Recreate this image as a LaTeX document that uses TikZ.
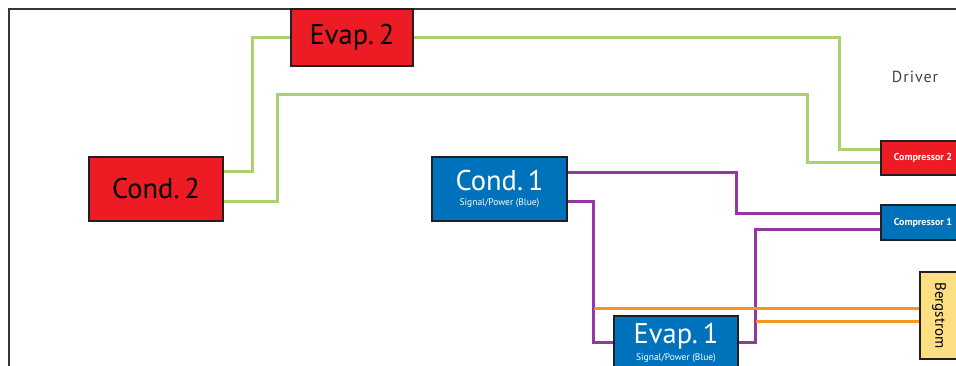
\documentclass[tikz,border=0pt]{standalone}
\usepackage{fontspec}
\setmainfont{PT Sans}
\begin{document}
\begin{tikzpicture}[x=1pt,y=-1pt,
  box/.style={draw=edge,line width=1.5pt,inner sep=0pt,align=center},
  bigtext/.style={font=\fontsize{28.5}{28.5}\selectfont},
  greenwire/.style={draw=wgreen,line width=3pt},
  purplewire/.style={draw=wpurple,line width=3pt},
  orangewire/.style={draw=worange,line width=3pt}]
\definecolor{edge}{RGB}{35,31,32}
\definecolor{cred}{RGB}{237,28,36}
\definecolor{cblue}{RGB}{0,114,188}
\definecolor{cyellow}{RGB}{253,222,130}
\definecolor{wgreen}{RGB}{172,210,110}
\definecolor{wpurple}{RGB}{146,56,160}
\definecolor{worange}{RGB}{247,148,29}
\useasboundingbox (0,0) rectangle (956,365);
% frame
\draw[line width=2pt,draw=edge!90] (9,380) |- (970,9);
% boxes
\node[box,bigtext,fill=cred,minimum width=122pt,minimum height=57pt] (evap2) at (352,37.5) {Evap.\,2};
\node[box,bigtext,fill=cred,minimum width=134pt,minimum height=64pt] (cond2) at (156,189) {Cond.\,2};
\node[box,fill=cblue,text=white,minimum width=135pt,minimum height=64pt] (cond1) at (499.5,189)
  {{\fontsize{28.5}{28.5}\selectfont Cond.\,1}\\[3pt]{\fontsize{9.5}{10}\selectfont Signal/Power (Blue)}};
\node[box,fill=cblue,text=white,minimum width=124pt,minimum height=54pt] (evap1) at (676,343)
  {{\fontsize{28.5}{28.5}\selectfont Evap.\,1}\\[3pt]{\fontsize{9.5}{10}\selectfont Signal/Power (Blue)}};
\node[box,fill=cred,text=white,font=\bfseries\fontsize{10}{10}\selectfont,minimum width=84pt,minimum height=34pt] (comp2) at (923,158) {Compressor 2};
\node[box,fill=cblue,text=white,font=\bfseries\fontsize{10}{10}\selectfont,minimum width=84pt,minimum height=35pt] (comp1) at (923,222.5) {Compressor 1};
\node[box,fill=cyellow,rotate=-90,font=\fontsize{15}{15}\selectfont,minimum width=87pt,minimum height=38pt] (berg) at (939,315.5) {Bergstrom};
\node[text=edge!85,font=\fontsize{16}{16}\selectfont\addfontfeature{LetterSpace=6}] (driver) at (915,77) {Driver};
% green wires
\draw[greenwire] ([yshift=18pt]cond2.east) -- ++(29,0) |- (evap2.west);
\draw[greenwire] (evap2.east) -- ++(426,0) |- ([yshift=9pt]comp2.west);
\draw[greenwire] ([yshift=-12pt]cond2.east) -- ++(54,0) -- ++(0,-107) -- ++(530,0) |- ([yshift=-4pt]comp2.west);
% purple wires
\draw[purplewire] ([yshift=17pt]cond1.east) -- ++(169,0) |- ([yshift=9.5pt]comp1.west);
\draw[purplewire] ([yshift=-12pt]cond1.east) -- ++(26,0) coordinate (tapA) |- ([yshift=1pt]evap1.west);
\draw[purplewire] ([yshift=1pt]evap1.east) -- ++(17,0) coordinate (tapB) |- ([yshift=-6.5pt]comp1.west);
% orange wires
\coordinate (bergA) at ([yshift=7.5pt]berg.south);
\coordinate (bergB) at ([yshift=-5.5pt]berg.south);
\draw[orangewire] (bergA -| tapA) -- (bergA);
\draw[orangewire] (bergB -| tapB) -- (bergB);
\end{tikzpicture}
\end{document}
